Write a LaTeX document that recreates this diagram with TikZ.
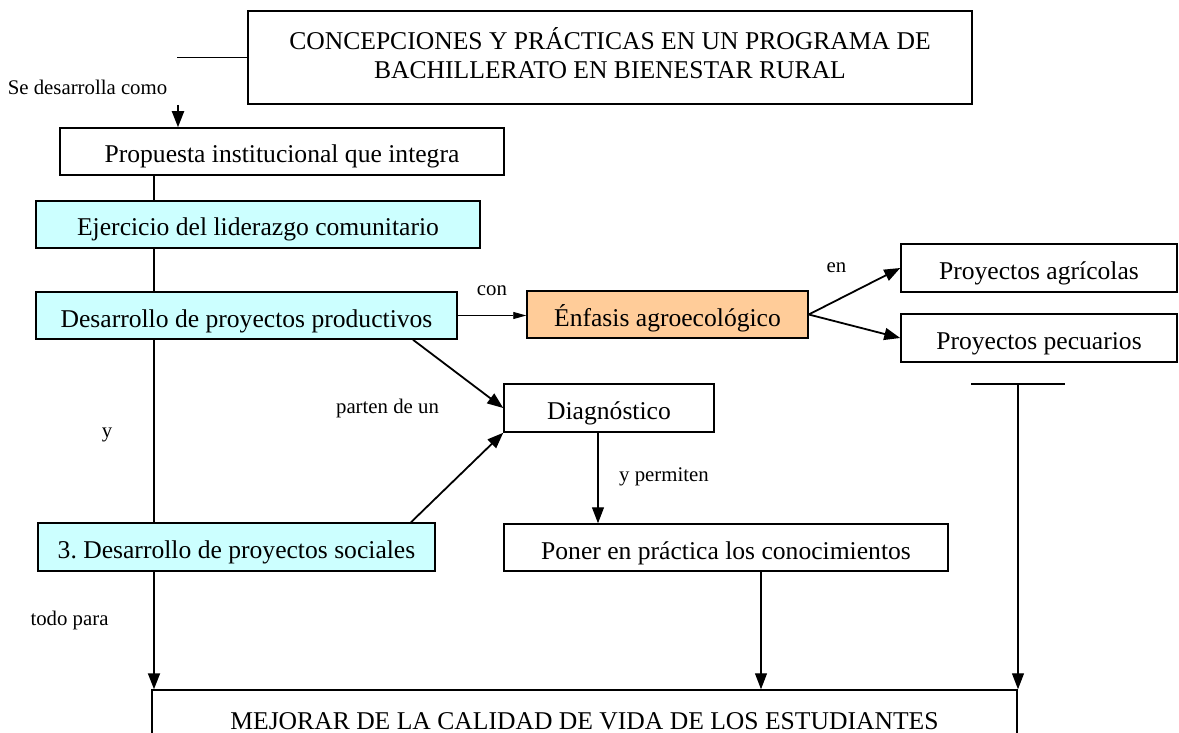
\documentclass[tikz,border=0pt]{standalone}
\usepackage{fontspec}
\setmainfont{Liberation Serif}
\usetikzlibrary{arrows.meta}
\definecolor{cyanfill}{HTML}{CCFFFF}
\definecolor{orangefill}{HTML}{FFCC99}
\frenchspacing
\begin{document}
\begin{tikzpicture}[x=1pt,y=-1pt,
  basebox/.style={draw=black, line width=1.5pt, inner sep=0pt, font=\fontsize{25.6}{28.5}\selectfont},
  box/.style={basebox, minimum height=47pt, text height=23pt, text depth=0pt},
  cyanbox/.style={box, fill=cyanfill},
  lbl/.style={inner sep=0pt, anchor=base, font=\fontsize{20.8}{24}\selectfont},
  conn/.style={line width=1.8pt},
  arr/.style={line width=1.8pt, -{Triangle[length=16pt,width=12pt]}},
  thinarr/.style={line width=1.2pt, -{Triangle[length=16pt,width=12pt]}},
  conarr/.style={line width=0.9pt, -{Triangle[length=13pt,width=7pt]}}]
\useasboundingbox (0,0) rectangle (1179,733);
\clip (0,0) rectangle (1179,733);

% boxes
\node[basebox, minimum width=724pt, minimum height=93pt] (title) at (610,57.5)
  {\begin{tabular}{@{}c@{}}CONCEPCIONES Y PRÁCTICAS EN UN PROGRAMA DE\\BACHILLERATO EN BIENESTAR RURAL\end{tabular}};
\node[box, minimum width=444pt] (prop) at (282,151.5) {Propuesta institucional que integra\hspace{46pt}};
\node[cyanbox, minimum width=444pt] (ejer) at (258,224.5) {Ejercicio del liderazgo comunitario};
\node[cyanbox, minimum width=421pt] (prod) at (246.5,315.5) {Desarrollo de proyectos productivos};
\node[box, fill=orangefill, minimum width=281pt] (enf) at (667.5,314.5) {Énfasis agroecológico};
\node[box, minimum width=276pt, minimum height=48pt] (agri) at (1039,268) {Proyectos agrícolas};
\node[box, minimum width=276pt, minimum height=48pt] (pecu) at (1039,338) {Proyectos pecuarios};
\node[box, minimum width=210pt, minimum height=48pt] (diag) at (609,408) {Diagnóstico};
\node[cyanbox, minimum width=397pt, minimum height=48pt] (soc) at (236.5,547) {3. Desarrollo de proyectos sociales};
\node[box, minimum width=444pt] (poner) at (726,547.5) {Poner en práctica los conocimientos};
\node[box, minimum width=865pt, minimum height=55pt] (goal) at (584.5,717.5) {MEJORAR DE LA CALIDAD DE VIDA DE LOS ESTUDIANTES};

% labels
\node[lbl] (lsdc) at (87.5,95) {Se desarrolla como};
\node[lbl] (lcon) at (492,295) {con};
\node[lbl] (len) at (836.5,272.5) {en};
\node[lbl] (lparten) at (387.5,413) {parten de un};
\node[lbl] (ly) at (107,437) {y};
\node[lbl] (lyperm) at (664,481.5) {y permiten};
\node[lbl] (ltodo) at (69.5,625) {todo para};

% helper coordinates
\coordinate (tstart) at (177,57.5);
\coordinate (sdc) at (178,105);
\coordinate (xl) at (154,0);
\coordinate (xd1) at (413,0);
\coordinate (xd2) at (411,0);
\coordinate (xdp) at (598,0);
\coordinate (xpg) at (761,0);
\coordinate (tl) at (971,384);
\coordinate (tr) at (1065,384);
\coordinate (tm) at (1018,384);

% connectors
\draw[conn] (title.west |- tstart) -- (tstart);
\draw[arr] (sdc) -- (prop.north -| sdc);
\draw[conn] (prop.south -| xl) -- (ejer.north -| xl);
\draw[conn] (ejer.south -| xl) -- (prod.north -| xl);
\draw[conn] (prod.south -| xl) -- (soc.north -| xl);
\draw[arr] (soc.south -| xl) -- (goal.north -| xl);
\draw[conarr] (prod.east) -- (prod.east -| enf.west);
\draw[arr] (enf.east) -- (agri.west);
\draw[arr] (enf.east) -- (pecu.west);
\draw[arr] (prod.south -| xd1) -- (diag.west);
\draw[arr] (soc.north -| xd2) -- (diag.south west);
\draw[thinarr] (diag.south -| xdp) -- (poner.north -| xdp);
\draw[thinarr] (poner.south -| xpg) -- (goal.north -| xpg);
\draw[conn] (tl) -- (tr);
\draw[thinarr] (tm) -- (goal.north -| tm);
\end{tikzpicture}
\end{document}
